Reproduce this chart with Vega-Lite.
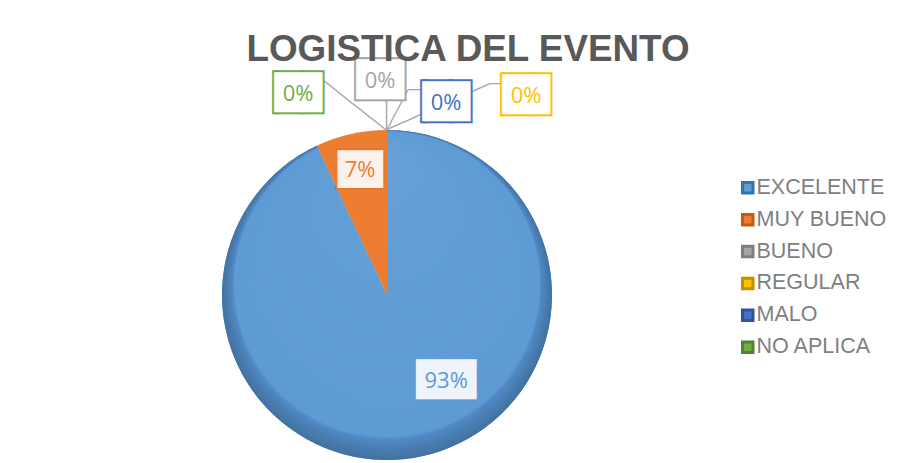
{
  "$schema": "https://vega.github.io/schema/vega-lite/v6.json",
  "width": 330,
  "height": 330,
  "autosize": {"type": "none"},
  "padding": {"left": 222, "top": 130, "right": 364, "bottom": 3},
  "background": "white",
  "config": {"view": {"stroke": null}},
  "title": {"text": "LOGISTICA DEL EVENTO", "font": "Liberation Sans", "fontSize": 36.8, "fontWeight": "bold", "color": "#595959", "anchor": "middle", "frame": "group", "dx": 81, "dy": 5, "offset": 0},
  "data": {"values": [
    {"categoria": "EXCELENTE", "porcentaje": 0.93, "orden": 1},
    {"categoria": "MUY BUENO", "porcentaje": 0.07, "orden": 2},
    {"categoria": "BUENO", "porcentaje": 0, "orden": 3},
    {"categoria": "REGULAR", "porcentaje": 0, "orden": 4},
    {"categoria": "MALO", "porcentaje": 0, "orden": 5},
    {"categoria": "NO APLICA", "porcentaje": 0, "orden": 6}
  ]},
  "encoding": {
    "theta": {"field": "porcentaje", "type": "quantitative", "stack": true, "scale": {"domain": [0, 1]}},
    "order": {"field": "orden", "type": "quantitative", "sort": "ascending"}
  },
  "layer": [
    {
      "mark": {"type": "arc", "radius": 165},
      "encoding": {
        "color": {
          "field": "categoria", "type": "nominal",
          "scale": {"domain": ["EXCELENTE", "MUY BUENO", "BUENO", "REGULAR", "MALO", "NO APLICA"], "range": ["#5F9BD5", "#ED7D31", "#A5A5A5", "#FFC000", "#4472C4", "#70AD47"]},
          "legend": {
            "title": null, "orient": "none", "legendX": 515, "legendY": 47,
            "symbolType": "square", "symbolSize": 110, "symbolStrokeWidth": 3,
            "labelFont": "Liberation Sans", "labelFontSize": 21.5, "labelColor": "#7F7F7F", "labelOffset": -2, "rowPadding": 8.9, "padding": 0, "labelLimit": 300,
            "encode": {"symbols": {"update": {"stroke": {"signal": "datum.value === 'EXCELENTE' ? '#2E75B6' : datum.value === 'MUY BUENO' ? '#C55A11' : datum.value === 'BUENO' ? '#7F7F7F' : datum.value === 'REGULAR' ? '#BF9000' : datum.value === 'MALO' ? '#2F5597' : '#538135'"}, "strokeWidth": {"value": 3}}}}
          }
        }
      }
    },
    {
      "transform": [{"filter": "datum.categoria === 'EXCELENTE'"}],
      "mark": {"type": "arc", "radius": 165, "fill": {"gradient": "radial", "x1": 0.5, "y1": 0.05, "r1": 0, "x2": 0.5, "y2": 0.5, "r2": 0.5, "stops": [{"offset": 0, "color": "#66A1D8"}, {"offset": 0.925, "color": "#5E9AD4"}, {"offset": 0.935, "color": "#5089C4"}, {"offset": 1, "color": "#41719F"}]}}
    },
    {"transform": [{"filter": "datum.categoria === 'NO APLICA'"}], "mark": {"type": "text", "text": "─────────", "font": "DejaVu Sans", "fontSize": 16, "radius": 165, "angle": 218.3, "align": "left", "baseline": "middle", "fill": "#A6A6A6"}},
    {"transform": [{"filter": "datum.categoria === 'BUENO'"}], "mark": {"type": "text", "text": "────", "font": "DejaVu Sans", "fontSize": 16, "radius": 165, "angle": 270, "align": "left", "baseline": "middle", "fill": "#A6A6A6"}},
    {"transform": [{"filter": "datum.categoria === 'MALO'"}], "mark": {"type": "text", "text": "─────", "font": "DejaVu Sans", "fontSize": 15, "radius": 165, "angle": 297.7, "align": "left", "baseline": "middle", "fill": "#A6A6A6"}},
    {"transform": [{"filter": "datum.categoria === 'MALO'"}], "mark": {"type": "text", "text": "──", "font": "DejaVu Sans", "fontSize": 15, "radius": 165, "dx": 21, "dy": -40, "align": "left", "baseline": "middle", "fill": "#A6A6A6"}},
    {"transform": [{"filter": "datum.categoria === 'REGULAR'"}], "mark": {"type": "text", "text": "────────────", "font": "DejaVu Sans", "fontSize": 15.6, "radius": 165, "angle": 335.9, "align": "left", "baseline": "middle", "fill": "#A6A6A6"}},
    {"transform": [{"filter": "datum.categoria === 'REGULAR'"}], "mark": {"type": "text", "text": "──", "font": "DejaVu Sans", "fontSize": 15.6, "radius": 165, "dx": 103, "dy": -46, "align": "left", "baseline": "middle", "fill": "#A6A6A6"}},

    {"transform": [{"filter": "datum.categoria === 'EXCELENTE'"}], "mark": {"type": "text", "text": "▕██▎", "font": "DejaVu Sans", "fontSize": 33.6, "radius": 88, "dx": 38.4, "align": "center", "baseline": "middle", "fill": "#EFF4FA"}},
    {"transform": [{"filter": "datum.categoria === 'EXCELENTE'"}], "mark": {"type": "text", "font": "Open Sans", "fontSize": 22, "radius": 88, "dx": 40, "align": "center", "baseline": "middle", "fill": "#5B9BD5"}, "encoding": {"text": {"field": "porcentaje", "type": "quantitative", "format": ".0%"}}},

    {"mark": {"type": "text", "text": "▕█▊", "font": "DejaVu Sans", "fontSize": 31.8, "radius": 128, "dx": -6.7, "align": "center", "baseline": "middle", "fill": "#E97629", "stroke": "#E97629", "strokeWidth": 4}, "encoding": {"opacity": {"condition": {"test": "datum.categoria === 'MUY BUENO'", "value": 1}, "value": 0}}},
    {"mark": {"type": "text", "text": "▕█▊", "font": "DejaVu Sans", "fontSize": 31.8, "radius": 128, "dx": -6.7, "align": "center", "baseline": "middle", "fill": "#FDF2EB"}, "encoding": {"opacity": {"condition": {"test": "datum.categoria === 'MUY BUENO'", "value": 1}, "value": 0}}},
    {"mark": {"type": "text", "font": "Open Sans", "fontSize": 22, "radius": 128, "dx": 1, "align": "center", "baseline": "middle", "fill": "#ED7D31"}, "encoding": {"text": {"field": "porcentaje", "type": "quantitative", "format": ".0%"}, "opacity": {"condition": {"test": "datum.categoria === 'MUY BUENO'", "value": 1}, "value": 0}}},

    {"transform": [{"filter": "datum.categoria === 'NO APLICA'"}], "mark": {"type": "text", "text": "▕█▊", "font": "DejaVu Sans", "fontSize": 33.6, "radius": 165, "dx": -97.1, "dy": -36, "align": "center", "baseline": "middle", "fill": "#70AD47", "stroke": "#70AD47", "strokeWidth": 4}},
    {"transform": [{"filter": "datum.categoria === 'NO APLICA'"}], "mark": {"type": "text", "text": "▕█▊", "font": "DejaVu Sans", "fontSize": 33.6, "radius": 165, "dx": -97.1, "dy": -36, "align": "center", "baseline": "middle", "fill": "#FFFFFF"}},
    {"transform": [{"filter": "datum.categoria === 'NO APLICA'"}], "mark": {"type": "text", "font": "Open Sans", "fontSize": 22, "radius": 165, "dx": -89, "dy": -36, "align": "center", "baseline": "middle", "fill": "#70AD47"}, "encoding": {"text": {"field": "porcentaje", "type": "quantitative", "format": ".0%"}}},

    {"transform": [{"filter": "datum.categoria === 'BUENO'"}], "mark": {"type": "text", "text": "▕█▊", "font": "DejaVu Sans", "fontSize": 33.6, "radius": 165, "dx": -15.1, "dy": -49, "align": "center", "baseline": "middle", "fill": "#A5A5A5", "stroke": "#A5A5A5", "strokeWidth": 4}},
    {"transform": [{"filter": "datum.categoria === 'BUENO'"}], "mark": {"type": "text", "text": "▕█▊", "font": "DejaVu Sans", "fontSize": 33.6, "radius": 165, "dx": -15.1, "dy": -49, "align": "center", "baseline": "middle", "fill": "#FFFFFF"}},
    {"transform": [{"filter": "datum.categoria === 'BUENO'"}], "mark": {"type": "text", "font": "Open Sans", "fontSize": 22, "radius": 165, "dx": -7, "dy": -49, "align": "center", "baseline": "middle", "fill": "#A5A5A5"}, "encoding": {"text": {"field": "porcentaje", "type": "quantitative", "format": ".0%"}}},

    {"transform": [{"filter": "datum.categoria === 'MALO'"}], "mark": {"type": "text", "text": "▕█▊", "font": "DejaVu Sans", "fontSize": 33.6, "radius": 165, "dx": 50.9, "dy": -27, "align": "center", "baseline": "middle", "fill": "#4472C4", "stroke": "#4472C4", "strokeWidth": 4}},
    {"transform": [{"filter": "datum.categoria === 'MALO'"}], "mark": {"type": "text", "text": "▕█▊", "font": "DejaVu Sans", "fontSize": 33.6, "radius": 165, "dx": 50.9, "dy": -27, "align": "center", "baseline": "middle", "fill": "#FFFFFF"}},
    {"transform": [{"filter": "datum.categoria === 'MALO'"}], "mark": {"type": "text", "font": "Open Sans", "fontSize": 22, "radius": 165, "dx": 59, "dy": -27, "align": "center", "baseline": "middle", "fill": "#4472C4"}, "encoding": {"text": {"field": "porcentaje", "type": "quantitative", "format": ".0%"}}},

    {"transform": [{"filter": "datum.categoria === 'REGULAR'"}], "mark": {"type": "text", "text": "▕█▊", "font": "DejaVu Sans", "fontSize": 33.6, "radius": 165, "dx": 130.9, "dy": -34, "align": "center", "baseline": "middle", "fill": "#FFC000", "stroke": "#FFC000", "strokeWidth": 4}},
    {"transform": [{"filter": "datum.categoria === 'REGULAR'"}], "mark": {"type": "text", "text": "▕█▊", "font": "DejaVu Sans", "fontSize": 33.6, "radius": 165, "dx": 130.9, "dy": -34, "align": "center", "baseline": "middle", "fill": "#FFFFFF"}},
    {"transform": [{"filter": "datum.categoria === 'REGULAR'"}], "mark": {"type": "text", "font": "Open Sans", "fontSize": 22, "radius": 165, "dx": 139, "dy": -34, "align": "center", "baseline": "middle", "fill": "#FFC000"}, "encoding": {"text": {"field": "porcentaje", "type": "quantitative", "format": ".0%"}}}
  ]
}
